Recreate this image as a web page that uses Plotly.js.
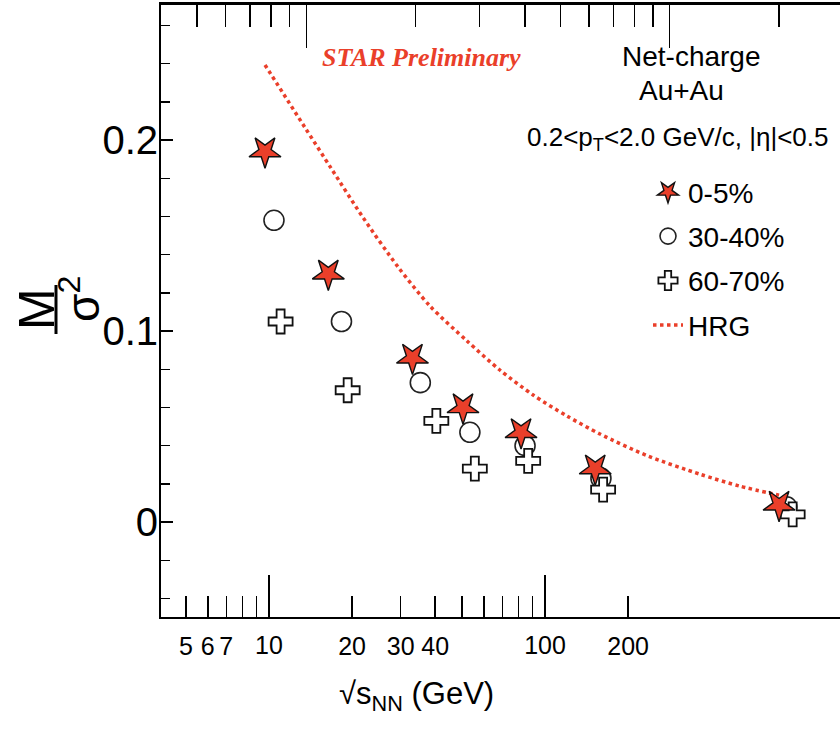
<!DOCTYPE html>
<html>
<head>
<meta charset="utf-8">
<script src="https://cdn.plot.ly/plotly-3.0.1.min.js"></script>
<style>
html,body{margin:0;padding:0;overflow:hidden;background:#fff;}
#chart{width:860px;height:734px;}
</style>
</head>
<body>
<div id="chart"></div>
<script>
// Beam energies (GeV) and M/sigma^2 values
const energy = [7.7, 11.5, 19.6, 27, 39, 62.4, 200];
const cent0_5 = [0.194, 0.130, 0.086, 0.060, 0.047, 0.028, 0.009];
const energy30_40 = [8.15, 12.5, 20.6, 28.2, 40.0, 64.7, 210];
const cent30_40 = [0.158, 0.105, 0.073, 0.047, 0.040, 0.023, 0.008];
const energy60_70 = [8.5, 13.0, 22.8, 29.1, 40.8, 65.6, 218];
const cent60_70 = [0.105, 0.069, 0.053, 0.028, 0.032, 0.017, 0.004];
const hrgEnergy = [7.7, 9.9, 11.7, 14.3, 17.9, 21.9, 27.7, 34.1, 42.1, 52.2, 64.3, 87.2, 121, 156, 200];
const hrgValue = [0.2393, 0.2068, 0.1853, 0.1597, 0.1335, 0.1131, 0.0948, 0.0796, 0.0665, 0.0555, 0.0461, 0.0346, 0.0251, 0.0188, 0.0141];

const seriesNames = ['0-5%', '30-40%', '60-70%', 'HRG'];
const xMajorVals = [10, 100];
const xMajorText = ['10', '100'];
const xLabelVals = [5, 6, 7, 20, 30, 40, 200];
const xLabelText = ['5', '6', '7', '20', '30', '40', '200'];
const yTickVals = [0, 0.1, 0.2];
const yTickText = ['0', '0.1', '0.2'];

const SANS = '"Liberation Sans", Arial, sans-serif';
const RED = '#ea3f2a';

const traces = [
  {x: [], y: [], xaxis: 'x', yaxis: 'y', type: 'scatter', mode: 'markers', showlegend: false, hoverinfo: 'skip'},
  {x: [], y: [], xaxis: 'x3', yaxis: 'y', type: 'scatter', mode: 'markers', showlegend: false, hoverinfo: 'skip'},
  {
    x: hrgEnergy, y: hrgValue, xaxis: 'x2', yaxis: 'y', type: 'scatter', mode: 'lines',
    name: seriesNames[3], legendrank: 4, legendgroup: 'g4',
    line: {color: RED, width: 3.5, dash: 'dot', shape: 'spline', smoothing: 0.8}
  },
  {
    x: energy30_40, y: cent30_40, xaxis: 'x2', yaxis: 'y', type: 'scatter', mode: 'markers',
    name: seriesNames[1], legendrank: 2, legendgroup: 'g2',
    marker: {symbol: 'circle', size: 20, color: '#ffffff', line: {color: '#222', width: 1.6}}
  },
  {
    x: energy60_70, y: cent60_70, xaxis: 'x2', yaxis: 'y', type: 'scatter', mode: 'markers',
    name: seriesNames[2], legendrank: 3, legendgroup: 'g3',
    marker: {symbol: 'cross', size: 20, color: '#ffffff', line: {color: '#111', width: 1.8}}
  },
  {
    x: energy, y: cent0_5, xaxis: 'x2', yaxis: 'y', type: 'scatter', mode: 'markers',
    name: seriesNames[0], legendrank: 1, legendgroup: 'g1',
    marker: {symbol: 'star', size: 24, angle: 180, color: RED, line: {color: '#111', width: 1.4}}
  }
];

const W = 860, H = 734, L = 161, R = 11, T = 5, B = 117;
const pw = W - L - R, ph = H - T - B;
const px = v => (v - L) / pw;
const py = v => (H - B - v) / ph;

const xTickFont = {family: SANS, size: 25, color: '#000'};

const layout = {
  width: W, height: H,
  margin: {l: L, r: R, t: T, b: B, pad: 0},
  paper_bgcolor: '#fff', plot_bgcolor: '#fff',
  font: {family: SANS, color: '#000'},
  showlegend: true,
  legend: {
    x: px(648), y: py(167), xanchor: 'left', yanchor: 'top',
    bgcolor: 'rgba(0,0,0,0)', font: {family: SANS, size: 28, color: '#000'},
    tracegroupgap: 5, itemwidth: 30, traceorder: 'grouped'
  },
  xaxis: {
    type: 'log', range: [0.6087, 3.1014], anchor: 'y', side: 'bottom',
    showline: true, linecolor: '#000', linewidth: 2, mirror: false,
    showgrid: false, zeroline: false,
    ticks: 'inside', ticklen: 42, tickwidth: 1.5, tickcolor: '#000',
    tickmode: 'array', tickvals: xMajorVals, ticktext: xMajorText,
    tickfont: xTickFont, ticklabelstandoff: 5,
    minor: {tickmode: 'array', tickvals: [5, 6, 7, 8, 9, 20, 30, 40, 50, 60, 70, 80, 90, 200], ticks: 'inside', ticklen: 21, tickwidth: 1.5, tickcolor: '#000', showgrid: false}
  },
  xaxis3: {
    type: 'log', range: [0.6087, 3.1014], anchor: 'y', overlaying: 'x', side: 'bottom',
    showline: false, showgrid: false, zeroline: false,
    ticks: 'inside', ticklen: 21, tickwidth: 1.5, tickcolor: '#000',
    tickmode: 'array', tickvals: xLabelVals, ticktext: xLabelText,
    tickfont: xTickFont, ticklabelstandoff: 12
  },
  xaxis2: {
    type: 'log', range: [0.6003, 2.4935], anchor: 'y', overlaying: 'x', side: 'top',
    showline: true, linecolor: '#000', linewidth: 3,
    showgrid: false, zeroline: false,
    ticks: 'inside', ticklen: 43, tickwidth: 1.5, tickcolor: '#000',
    tickmode: 'array', tickvals: [10, 100], showticklabels: false,
    minor: {tickmode: 'array', tickvals: [5, 6, 7, 8, 9, 20, 30, 40, 50, 60, 70, 80, 90, 200], ticks: 'inside', ticklen: 22, tickwidth: 1.5, tickcolor: '#000', showgrid: false}
  },
  yaxis: {
    range: [-0.0497, 0.2707], anchor: 'x',
    showline: true, linecolor: '#000', linewidth: 2, mirror: false,
    showgrid: false, zeroline: false,
    ticks: 'inside', ticklen: 12, tickwidth: 1.5, tickcolor: '#000',
    tickmode: 'array', tickvals: yTickVals, ticktext: yTickText,
    tickfont: {family: SANS, size: 40, color: '#000'},
    ticklabelstandoff: -7,
    minor: {tickmode: 'array', tickvals: [-0.04, -0.02, 0.02, 0.04, 0.06, 0.08, 0.12, 0.14, 0.16, 0.18, 0.22, 0.24, 0.26], ticks: 'inside', ticklen: 9, tickwidth: 1.5, tickcolor: '#000', showgrid: false}
  },
  annotations: [
    {xref: 'paper', yref: 'paper', x: px(416), y: py(696), text: '√s<sub>NN</sub> (GeV)', showarrow: false,
     font: {family: SANS, size: 31, color: '#000'}, xanchor: 'center', yanchor: 'middle'},
    {xref: 'paper', yref: 'paper', x: px(37), y: py(309), text: 'M', textangle: -90, showarrow: false,
     font: {family: SANS, size: 50, color: '#000'}, xanchor: 'center', yanchor: 'middle'},
    {xref: 'paper', yref: 'paper', x: px(80), y: py(299), text: 'σ<sup>2</sup>', textangle: -90, showarrow: false,
     font: {family: SANS, size: 46, color: '#000'}, xanchor: 'center', yanchor: 'middle'},
    {xref: 'paper', yref: 'paper', x: px(421), y: py(57), text: '<b><i>STAR Preliminary</i></b>', showarrow: false,
     font: {family: '"Liberation Serif", "Times New Roman", serif', size: 26, color: RED}, xanchor: 'center', yanchor: 'middle'},
    {xref: 'paper', yref: 'paper', x: px(691), y: py(56), text: 'Net-charge', showarrow: false,
     font: {family: SANS, size: 28, color: '#000'}, xanchor: 'center', yanchor: 'middle'},
    {xref: 'paper', yref: 'paper', x: px(681), y: py(91), text: 'Au+Au', showarrow: false,
     font: {family: SANS, size: 28, color: '#000'}, xanchor: 'center', yanchor: 'middle'},
    {xref: 'paper', yref: 'paper', x: px(677), y: py(138), text: '0.2&lt;p<sub>T</sub>&lt;2.0 GeV/c, |η|&lt;0.5', showarrow: false,
     font: {family: SANS, size: 26, color: '#000'}, xanchor: 'center', yanchor: 'middle'}
  ],
  shapes: [
    {type: 'line', xref: 'paper', yref: 'paper', x0: px(56), x1: px(56), y0: py(285), y1: py(334),
     line: {color: '#000', width: 3}}
  ]
};

Plotly.newPlot('chart', traces, layout, {staticPlot: true, displayModeBar: false});
</script>
</body>
</html>
